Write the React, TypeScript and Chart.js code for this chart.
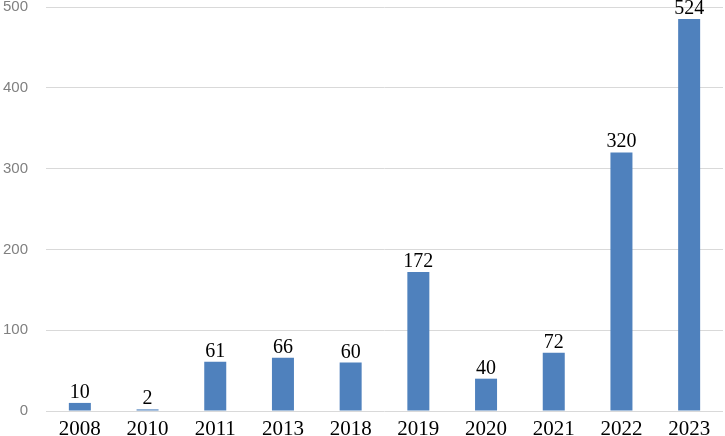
import React, { useEffect, useRef } from "react";
import { Chart, registerables } from "chart.js";

Chart.register(...registerables);

const categories = ["2008", "2010", "2011", "2013", "2018", "2019", "2020", "2021", "2022", "2023"];
const barValues = [10, 2, 61, 66, 60, 172, 40, 72, 320, 485];
const barLabels = ["10", "2", "61", "66", "60", "172", "40", "72", "320", "524"];
const yTicks = [0, 100, 200, 300, 400, 500];

const dataLabelPlugin = {
  id: "dataLabels",
  afterDatasetsDraw(chart: any) {
    const ctx = chart.ctx;
    const meta = chart.getDatasetMeta(0);
    ctx.save();
    ctx.font = '20px "Liberation Serif", "Times New Roman", serif';
    ctx.fillStyle = "#000000";
    ctx.textAlign = "center";
    ctx.textBaseline = "alphabetic";
    meta.data.forEach((bar: any, i: number) => {
      ctx.fillText(barLabels[i], bar.x, bar.y - 5);
    });
    ctx.restore();
  },
};

export default function App() {
  const ref = useRef<HTMLCanvasElement>(null);
  useEffect(() => {
    document.body.style.margin = "0";
    const chart = new Chart(ref.current!, {
      type: "bar",
      data: {
        labels: categories,
        datasets: [
          {
            data: barValues,
            backgroundColor: "#4f81bd",
            barPercentage: 0.325,
            categoryPercentage: 1,
          },
        ],
      },
      options: {
        animation: false,
        responsive: false,
        maintainAspectRatio: false,
        layout: { padding: { top: 7, right: 2, bottom: 0, left: 0 } },
        plugins: { legend: { display: false }, tooltip: { enabled: false } },
        scales: {
          x: {
            grid: { display: false, drawTicks: false },
            border: { display: false },
            ticks: {
              padding: 6,
              color: "#000000",
              font: { family: '"Liberation Serif", "Times New Roman", serif', size: 21 },
              maxRotation: 0,
              autoSkip: false,
            },
            afterFit: (scale: any) => {
              scale.height = 25;
            },
          },
          y: {
            min: 0,
            max: 500,
            afterBuildTicks: (scale: any) => {
              scale.ticks = yTicks.map((v) => ({ value: v }));
            },
            grid: { color: "#d9d9d9", lineWidth: 1, drawTicks: false },
            border: { display: false },
            ticks: {
              padding: 18,
              color: "#808080",
              font: { family: '"Liberation Sans", Arial, sans-serif', size: 15 },
            },
            afterFit: (scale: any) => {
              scale.width = 46;
              scale.paddingTop = 0;
              scale.paddingBottom = 0;
            },
          },
        },
      },
      plugins: [dataLabelPlugin],
    });
    return () => chart.destroy();
  }, []);
  return (
    <div style={{ position: "absolute", left: 0, top: 0, width: 725, height: 436 }}>
      <canvas ref={ref} width={725} height={436} style={{ width: 725, height: 436 }} />
    </div>
  );
}
